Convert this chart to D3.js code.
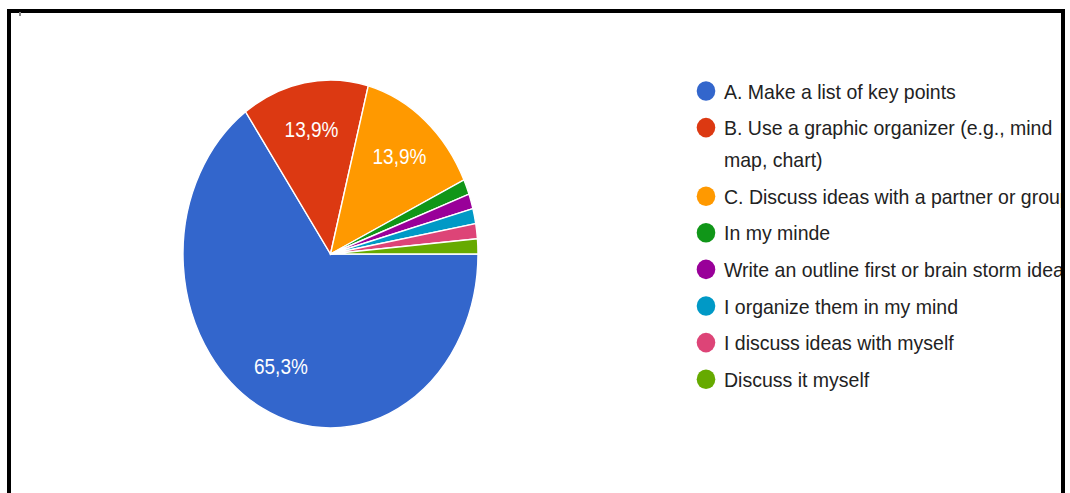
<!DOCTYPE html>
<html>
<head>
<meta charset="utf-8">
<script src="https://cdn.jsdelivr.net/npm/d3@7"></script>
<style>
  html, body { margin: 0; padding: 0; background: #fff; }
  svg { display: block; font-family: "Liberation Sans", Arial, sans-serif; }
</style>
</head>
<body>
<svg id="chart" width="1070" height="493"></svg>
<script>
// Survey answers and their shares (%)
const categories = [
  "A. Make a list of key points",
  "B. Use a graphic organizer (e.g., mind map, chart)",
  "C. Discuss ideas with a partner or group",
  "In my minde",
  "Write an outline first or brain storm ideas",
  "I organize them in my mind",
  "I discuss ideas with myself",
  "Discuss it myself"
];
const shares = [65.3, 13.9, 13.9, 1.4, 1.4, 1.4, 1.4, 1.4];
const colors = ["#3366cc", "#dc3912", "#ff9900", "#109618", "#990099", "#0099c6", "#dd4477", "#66aa00"];

const W = 1070, H = 493;
const svg = d3.select("#chart");

// frame clip: content stays inside the black border
svg.append("defs").append("clipPath").attr("id", "frameClip")
  .append("rect").attr("x", 11).attr("y", 12).attr("width", 1050).attr("height", H);

const content = svg.append("g").attr("clip-path", "url(#frameClip)");

// Pie (slightly taller than wide)
const cx = 330.5, cy = 254, rx = 147.5, ry = 174;
const sy = ry / rx;

const pie = d3.pie().sort(null).value(d => d)
  .startAngle(Math.PI / 2).endAngle(Math.PI / 2 + 2 * Math.PI);
const arcs = pie(shares);

const arc = d3.arc().innerRadius(0).outerRadius(rx);
const labelArc = d3.arc().innerRadius(rx * 0.73).outerRadius(rx * 0.73);

const pieG = content.append("g")
  .attr("transform", `translate(${cx},${cy}) scale(1,${sy})`);

pieG.selectAll("path.slice")
  .data(arcs)
  .join("path")
  .attr("class", "slice")
  .attr("d", arc)
  .attr("fill", (d, i) => colors[i])
  .attr("stroke", "#fff")
  .attr("stroke-width", 1.4)
  .attr("vector-effect", "non-scaling-stroke");

// Percentage labels on the larger slices
const locale = d3.formatLocale({ decimal: ",", thousands: ".", grouping: [3], currency: ["", ""] });
const fmt = locale.format(".1f");

content.append("g").selectAll("text.pct")
  .data(arcs.filter(d => d.value >= 5))
  .join("text")
  .attr("class", "pct")
  .attr("transform", d => {
    const [x, y] = labelArc.centroid(d);
    return `translate(${cx + x},${cy + y * sy}) scale(1,1.12)`;
  })
  .attr("text-anchor", "middle")
  .attr("dy", "0.36em")
  .attr("fill", "#fff")
  .attr("font-size", 19)
  .text(d => fmt(d.value) + "%");

// Legend
const legendX = 706, textX = 724, legendTop = 91, rowStep = 36.6, lineStep = 32, maxW = 357;
const legend = content.append("g");
let y = legendTop;
categories.forEach((name, i) => {
  const row = legend.append("g");
  row.append("ellipse")
    .attr("cx", legendX).attr("cy", y)
    .attr("rx", 9.3).attr("ry", 9.8)
    .attr("fill", colors[i]);
  const t = row.append("text")
    .attr("x", textX).attr("y", 0)
    .attr("fill", "#222")
    .attr("font-size", 19.5)
    .attr("transform", `translate(0,${y}) scale(1,1.07)`);
  // word wrap at the legend width
  const words = name.split(" ");
  let lines = [], cur = "";
  const probe = t.append("tspan").attr("x", textX);
  words.forEach(w => {
    const test = cur ? cur + " " + w : w;
    probe.text(test);
    if (probe.node().getComputedTextLength() > maxW && cur) {
      lines.push(cur);
      cur = w;
    } else {
      cur = test;
    }
  });
  lines.push(cur);
  probe.remove();
  lines.forEach((ln, k) => {
    t.append("tspan")
      .attr("x", textX)
      .attr("y", k * lineStep / 1.07)
      .attr("dy", "0.36em")
      .text(ln);
  });
  y += rowStep + (lines.length - 1) * lineStep;
});

// Black frame (open at the bottom)
svg.append("path")
  .attr("d", `M9,${H} V11 H1063 V${H}`)
  .attr("fill", "none")
  .attr("stroke", "#000")
  .attr("stroke-width", 4);

// small mark in the corner
svg.append("rect")
  .attr("x", 19).attr("y", 12).attr("width", 2).attr("height", 4)
  .attr("fill", "#888");
</script>
</body>
</html>
